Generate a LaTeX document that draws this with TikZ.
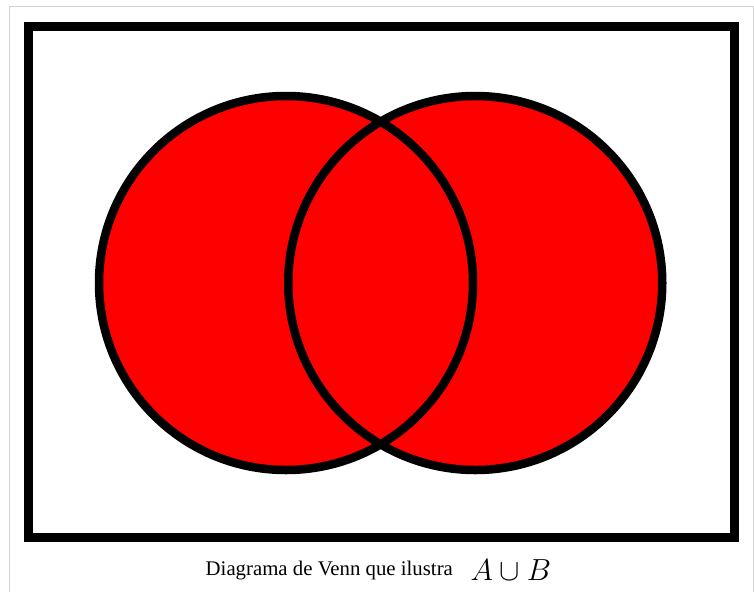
\RequirePackage{fix-cm}
\documentclass[tikz,border=0pt]{standalone}
\usepackage{amsmath}
\usepackage{fontspec}
\setmainfont{Liberation Serif}
\usepackage{tikz}
\usetikzlibrary{arrows.meta}

\tikzset{
  setline/.style={line width=8.5pt},
  framebox/.style={line width=9pt}
}

\begin{document}
\begin{tikzpicture}[x=1pt,y=-1pt,>=Stealth]
  \useasboundingbox (0,0) rectangle (754,592);
  % thin outer frame
  \draw[gray!35, line width=1pt] (9,592) -- (9,6) -- (753,6) -- (753,592);
  % universe
  \draw[framebox] (28.5,26.5) rectangle (734.5,537.8);

  % sets A and B
  \coordinate (A) at (286,283);
  \coordinate (B) at (475.25,283);
  \fill[red] (A) circle (187) (B) circle (187);
  \draw[setline] (A) circle (187);
  \draw[setline] (B) circle (187);

  % caption
  \node[anchor=base west, inner sep=0pt, font=\fontsize{20.8}{25}\selectfont] (caption) at (205.5,575)
    {Diagrama de Venn que ilustra};
  \node[anchor=base west, inner sep=0pt, font=\fontsize{30.5}{36}\selectfont] (union) at (470.5,580)
    {$A \cup B$};
\end{tikzpicture}
\end{document}
